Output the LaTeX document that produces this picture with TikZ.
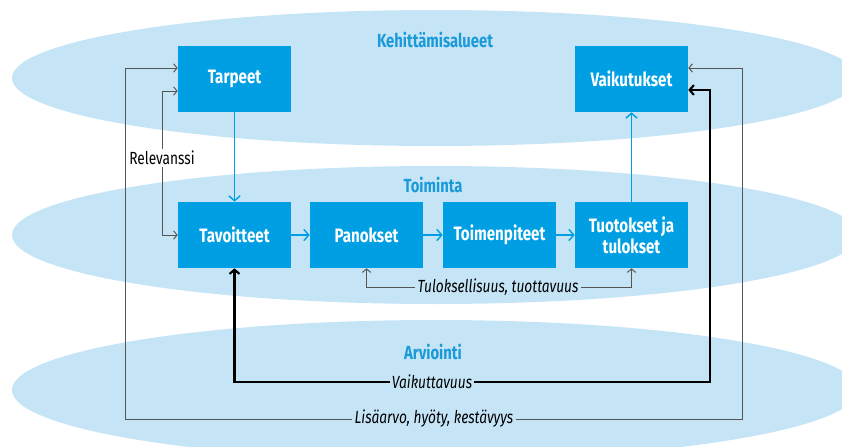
\documentclass[tikz,border=0pt]{standalone}
\usepackage{fontspec}
\setmainfont[FakeStretch=0.78]{Fira Sans}
\usetikzlibrary{calc,arrows.meta,positioning}

\definecolor{zone}{HTML}{C5E5F7}
\definecolor{boxblue}{HTML}{009FE3}
\definecolor{titleblue}{HTML}{1A9AD8}
\definecolor{linegray}{HTML}{555555}

\begin{document}
\begin{tikzpicture}[x=0.025cm,y=-0.025cm]
		% Styles
		\tikzset{
			zonefill/.style={fill=zone},
			box/.style={fill=boxblue, text=white, font=\fontsize{13.8}{15}\selectfont\bfseries, minimum width=2.825cm, minimum height=1.65cm, inner sep=0pt, align=center},
			title/.style={text=titleblue, font=\fontsize{13.5}{15}\selectfont\bfseries},
			note/.style={font=\fontsize{12.5}{14}\selectfont\itshape, inner sep=1.5pt},
			flow/.style={draw=boxblue, line width=1pt, -{Straight Barb[length=3.5pt,width=8pt]}},
			fb/.style={draw=linegray, line width=0.7pt, -{Straight Barb[length=2.5pt,width=6pt]}},
			imp/.style={draw=black, line width=1.5pt, -{Straight Barb[length=3pt,width=7pt]}}
		}
		\useasboundingbox (0,0) rectangle (842,447);
		\clip (0,0) rectangle (842,447);

		% Zones (Background)
		\fill[zonefill] (435,78) ellipse [x radius=423, y radius=68];
		\fill[zonefill] (435,235) ellipse [x radius=423, y radius=69];
		\fill[zonefill] (435,390) ellipse [x radius=423, y radius=70];
		\node[title] (keh) at (435,40) {Kehittämisalueet};
		\node[title] (toim) at (433,185) {Toiminta};
		\node[title] (arv) at (433,352) {Arviointi};

		% Boxes
		\node[box] (tarpeet) at (234.5,79) {Tarpeet};
		\node[box] (vaikutukset) at (631.5,79) {Vaikutukset};
		\node[box] (tavoitteet) at (234.5,235) {Tavoitteet};
		\node[box] (panokset) at (366.5,235) {Panokset};
		\node[box] (toimenpiteet) at (499.5,235) {Toimenpiteet};
		\node[box] (tuotokset) at (631.5,235) {Tuotokset ja\\tulokset};

		% Main flow
		\draw[flow] (tarpeet) -- (tavoitteet);
		\draw[flow] (tavoitteet) -- (panokset);
		\draw[flow] (panokset) -- (toimenpiteet);
		\draw[flow] (toimenpiteet) -- (tuotokset);
		\draw[flow] (tuotokset) -- (vaikutukset);

		% Relevanssi
		\node[note, font=\fontsize{12.5}{14}\selectfont] (rel) at (162,158) {Relevanssi};
		\draw[fb] (rel.north) |- ($(tarpeet.west)+(0,12)$);
		\draw[fb] (rel.south) |- (tavoitteet.west);

		% Tuloksellisuus
		\node[note] (tulos) at (498,287) {Tuloksellisuus, tuottavuus};
		\draw[fb] (tulos.west) -| (panokset.south);
		\draw[fb] (tulos.east) -| (tuotokset.south);

		% Vaikuttavuus
		\node[note] (vaik) at (432,382) {Vaikuttavuus};
		\coordinate (vaikR) at (710,382);
		\draw[imp] (vaik.west) -| (tavoitteet.south);
		\draw[imp] (vaik.east) -- (vaikR) |- ($(vaikutukset.east)+(0,11)$);

		% Lisaarvo
		\node[note] (lisa) at (434,419) {Lisäarvo, hyöty, kestävyys};
		\coordinate (lisaL) at (125,419);
		\coordinate (lisaR) at (742,419);
		\draw[fb] (lisa.west) -- (lisaL) |- ($(tarpeet.west)+(0,-11)$);
		\draw[fb] (lisa.east) -- (lisaR) |- ($(vaikutukset.east)+(0,-11)$);

	\end{tikzpicture}
\end{document}
